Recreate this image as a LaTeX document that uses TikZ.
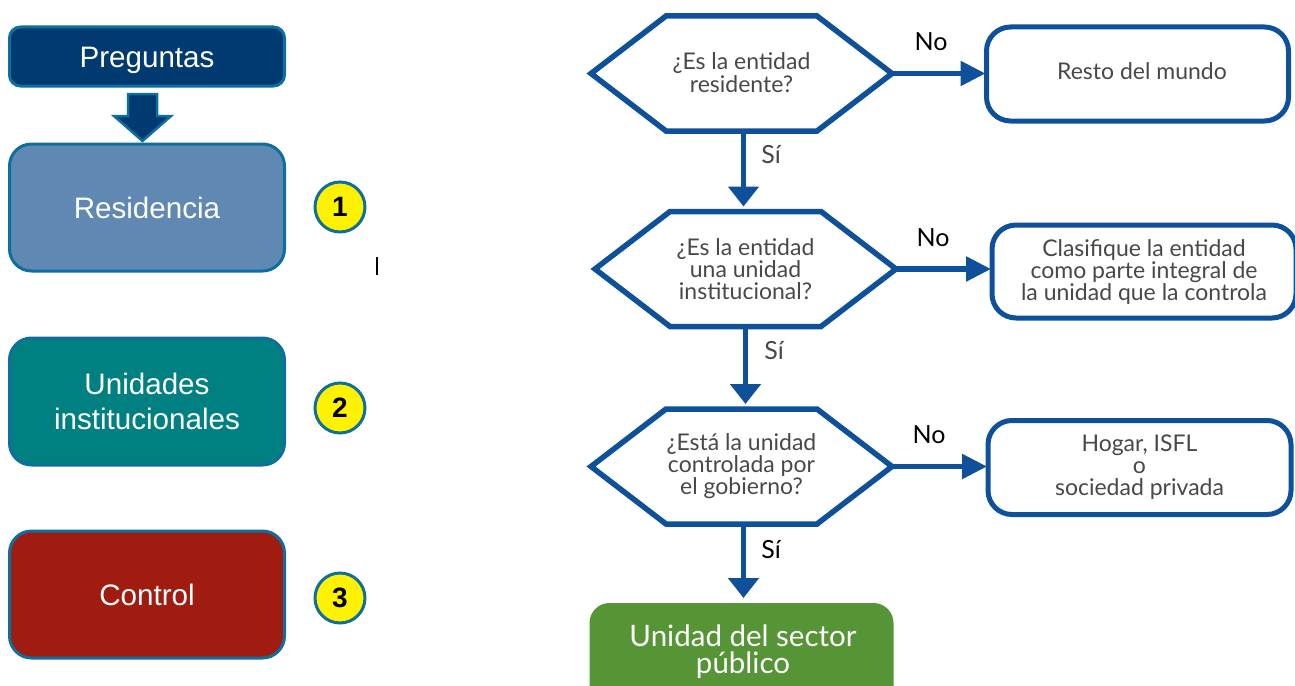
\documentclass[tikz,border=0pt]{standalone}
\usepackage{fontspec}
\setmainfont{Liberation Sans}
\newfontfamily\flowfont{Lato}
\usetikzlibrary{arrows.meta,calc}
\definecolor{navy}{HTML}{003A70}
\definecolor{edgeteal}{HTML}{0E6F9E}
\definecolor{resid}{HTML}{5F88B3}
\definecolor{unid}{HTML}{008080}
\definecolor{ctrl}{HTML}{A01C10}
\definecolor{flowblue}{HTML}{0F509B}
\definecolor{flowgreen}{HTML}{559535}
\definecolor{bodytext}{HTML}{484848}
\tikzset{
  leftbox/.style={draw=edgeteal,line width=3pt,rounded corners=#1,text=white,inner sep=0pt,outer sep=0pt,align=center,font=\fontsize{29.6}{35}\selectfont},
  badge/.style={circle,draw=edgeteal,line width=3pt,fill=yellow,minimum size=50pt,inner sep=0pt,font=\fontsize{28}{28}\selectfont\bfseries},
  hexnode/.style={inner sep=0pt,outer sep=0pt,minimum width=#1,minimum height=115pt,align=center,text=bodytext,font=\flowfont\fontsize{23}{22}\selectfont},
  hexline/.style={draw=flowblue,line width=5.5pt,line join=miter},
  resultbox/.style={draw=flowblue,line width=5pt,rounded corners=24pt,fill=white,inner sep=0pt,outer sep=0pt,align=center,text=bodytext,font=\flowfont\fontsize{23}{22}\selectfont},
  harrow/.style={draw=flowblue,line width=5.5pt,-{Triangle[length=25pt,width=24pt]}},
  varrow/.style={draw=flowblue,line width=5.5pt,-{Triangle[length=20pt,width=30pt]}},
  edgelabel/.style={inner sep=0pt,font=\flowfont\fontsize{25}{25}\selectfont},
}
\begin{document}
\begin{tikzpicture}[x=1pt,y=-1pt]
\useasboundingbox (0,0) rectangle (1295,685);

% left column
\node[leftbox=11pt,fill=navy,minimum width=275pt,minimum height=59pt] (preg) at (147,56.5) {};
\node[text=white,inner sep=0pt,font=\fontsize{29.6}{30}\selectfont] (pregt) at (147,60) {Preguntas};
\node[leftbox=22pt,fill=resid,minimum width=275pt,minimum height=127pt] (resi) at (147,207.5) {Residencia};
\node[leftbox=22pt,fill=unid,minimum width=275pt,minimum height=127pt] (unin) at (147,401.5) {Unidades\\institucionales};
\node[leftbox=22pt,fill=ctrl,minimum width=275pt,minimum height=127pt] (cont) at (147,594.5) {Control};
\draw[draw=edgeteal,fill=navy,line width=2.5pt,line join=miter]
  ($(preg.south)+(-19,8)$) -- ($(preg.south)+(10,8)$) -- ($(preg.south)+(10,30)$)
  -- ($(preg.south)+(24,30)$) -- ($(resi.north -| preg.south)+(-4.5,-3)$) -- ($(preg.south)+(-33,30)$)
  -- ($(preg.south)+(-19,30)$) -- cycle;

\node[badge] (b1) at (340,207) {1};
\node[badge] (b2) at (340,408) {2};
\node[badge] (b3) at (340,598) {3};
\coordinate (tickA) at (377,257);
\coordinate (tickB) at (377,275);
\draw[black,line width=1.2pt] (tickA) -- (tickB);

% hexagons
\node[hexnode=301pt] (h1) at (741.5,73.5) {\raisebox{2pt}{\shortstack[c]{¿Es la entidad\\[-1pt]residente?}}};
\draw[hexline] (h1.west) -- ($(h1.north west)+(75,0)$) -- ($(h1.north east)+(-75,0)$) -- (h1.east)
  -- ($(h1.south east)+(-75,0)$) -- ($(h1.south west)+(75,0)$) -- cycle;
\node[hexnode=301pt] (h2) at (745.5,269) {\vspace*{-4pt}¿Es la entidad\\una unidad\\institucional?};
\draw[hexline] (h2.west) -- ($(h2.north west)+(75,0)$) -- ($(h2.north east)+(-75,0)$) -- (h2.east)
  -- ($(h2.south east)+(-75,0)$) -- ($(h2.south west)+(75,0)$) -- cycle;
\node[hexnode=301pt] (h3) at (741.5,466.5) {\vspace*{-4pt}¿Está la unidad\\controlada por\\el gobierno?};
\draw[hexline] (h3.west) -- ($(h3.north west)+(75,0)$) -- ($(h3.north east)+(-75,0)$) -- (h3.east)
  -- ($(h3.south east)+(-75,0)$) -- ($(h3.south west)+(75,0)$) -- cycle;

% result boxes
\node[resultbox,minimum width=302pt,minimum height=94pt] (r1) at (1137.5,74) {\hspace*{9pt}\raisebox{6pt}{Resto del mundo}};
\node[resultbox,minimum width=304pt,minimum height=93pt] (r2) at (1144,271.5) {Clasifique la entidad\\como parte integral de\\la unidad que la controla};
\node[resultbox,minimum width=303pt,minimum height=94pt] (r3) at (1139.5,467.5) {Hogar, ISFL\\o\\sociedad privada};

\path[clip] (0,0) rectangle (1295,685);
\node[fill=flowgreen,rounded corners=20pt,minimum width=304pt,minimum height=110pt,inner sep=0pt,outer sep=0pt] (pub) at (741.5,658) {};
\node[text=white,align=center,inner sep=0pt,font=\flowfont\fontsize{29.5}{27}\selectfont] (pubt) at (743,652) {Unidad del sector\\público};

% connectors
\draw[varrow,shorten >=5pt] ([xshift=2pt]h1.south) -- ([xshift=-2pt]h2.north);
\draw[varrow,shorten >=5pt] (h2.south) -- ([xshift=4pt]h3.north);
\draw[varrow,shorten >=5pt] ([xshift=2pt]h3.south) -- ([xshift=2pt]pub.north);
\draw[harrow,shorten >=1pt] (h1.east) -- (r1.west |- h1.east);
\draw[harrow,shorten >=1pt] (h2.east) -- (r2.west |- h2.east);
\draw[harrow,shorten >=1pt] (h3.east) -- (r3.west |- h3.east);

\node[edgelabel,text=black] (no1) at (931,42) {No};
\node[edgelabel,text=bodytext] (si1) at (771,155) {Sí};
\node[edgelabel,text=black] (no2) at (933,238) {No};
\node[edgelabel,text=bodytext] (si2) at (774,351) {Sí};
\node[edgelabel,text=black] (no3) at (929,435) {No};
\node[edgelabel,text=black] (si3) at (771,550) {Sí};
\end{tikzpicture}
\end{document}
